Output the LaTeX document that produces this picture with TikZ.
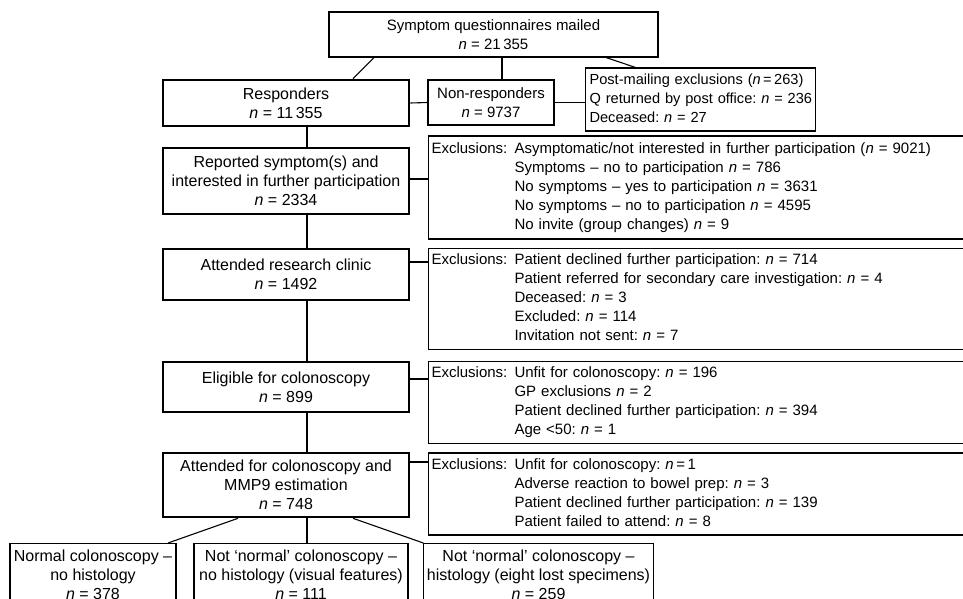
\documentclass[tikz,border=0pt]{standalone}
\usepackage{fontspec}
\setmainfont{Liberation Sans}
\usepackage{tikz}
\usetikzlibrary{calc}
\frenchspacing

\begin{document}
\begin{tikzpicture}[x=1pt, y=-1pt,
font=\fontsize{16}{19}\selectfont,
box/.style={draw, line width=1.1pt, inner sep=3pt, align=center},
smallbox/.style={box, font=\fontsize{15}{19}\selectfont},
mainbox/.style={box, line width=2.6pt},
exclbox/.style={smallbox, anchor=west, inner xsep=3pt, align=left},
link/.style={line width=1.1pt}]
\useasboundingbox (0,0) rectangle (963,598);
\coordinate (spine) at (307,0);
\node[smallbox, minimum width=329pt, minimum height=45pt] (mailed) at (493.5,34.5)
  {Symptom questionnaires mailed\\\textit{n} = 21\,355};
\node[mainbox, minimum width=246pt, minimum height=46pt] (resp) at (286,103)
  {Responders\\\textit{n} = 11\,355};
\node[smallbox, minimum width=126pt, minimum height=45pt] (nonresp) at (491,102.5)
  {Non-responders\\\textit{n} = 9737};
\node[exclbox, minimum width=230pt, minimum height=61pt, text width=222pt, inner xsep=4pt, font=\fontsize{14.6}{19}\selectfont] (postexcl) at (585,99.5)
  {\begin{tabular}{@{}l@{}}Post-mailing exclusions (\textit{n}\,=\,263)\\Q returned by post office: \textit{n} = 236\\Deceased: \textit{n} = 27\end{tabular}};
\node[mainbox, minimum width=246pt, minimum height=66pt] (symptoms) at (286,181)
  {Reported symptom(s) and\\interested in further participation\\\textit{n} = 2334};
\node[exclbox, minimum width=537pt, minimum height=103pt, text width=531pt] (exclsymptoms) at (428,187.5)
  {\begin{tabular}{@{}p{83pt}@{}l@{}}Exclusions: & Asymptomatic/not interested in further participation (\textit{n} = 9021)\\
  & Symptoms -- no to participation \textit{n} = 786\\
  & No symptoms -- yes to participation \textit{n} = 3631\\
  & No symptoms -- no to participation \textit{n} = 4595\\
  & No invite (group changes) \textit{n} = 9\end{tabular}};
\node[mainbox, minimum width=246pt, minimum height=51pt] (clinic) at (286,274.5)
  {Attended research clinic\\\textit{n} = 1492};
\node[exclbox, minimum width=537pt, minimum height=100pt, text width=531pt] (exclclinic) at (428,299)
  {\begin{tabular}{@{}p{83pt}@{}l@{}}Exclusions: & Patient declined further participation: \textit{n} = 714\\
  & Patient referred for secondary care investigation: \textit{n} = 4\\
  & Deceased: \textit{n} = 3\\
  & Excluded: \textit{n} = 114\\
  & Invitation not sent: \textit{n} = 7\end{tabular}};
\node[mainbox, minimum width=246pt, minimum height=50pt] (eligible) at (286,387)
  {Eligible for colonoscopy\\\textit{n} = 899};
\node[exclbox, minimum width=537pt, minimum height=81pt, text width=531pt] (excleligible) at (428,402.5)
  {\begin{tabular}{@{}p{83pt}@{}l@{}}Exclusions: & Unfit for colonoscopy: \textit{n} = 196\\
  & GP exclusions \textit{n} = 2\\
  & Patient declined further participation: \textit{n} = 394\\
  & Age <50: \textit{n} = 1\end{tabular}};
\node[mainbox, minimum width=246pt, minimum height=64pt] (colon) at (286,485)
  {Attended for colonoscopy and\\MMP9 estimation\\\textit{n} = 748};
\node[exclbox, minimum width=537pt, minimum height=81pt, text width=531pt] (exclcolon) at (428,494)
  {\begin{tabular}{@{}p{83pt}@{}l@{}}Exclusions: & Unfit for colonoscopy: \textit{n}\,=\,1\\
  & Adverse reaction to bowel prep: \textit{n} = 3\\
  & Patient declined further participation: \textit{n} = 139\\
  & Patient failed to attend: \textit{n} = 8\end{tabular}};
\node[box, anchor=north, minimum width=166pt, minimum height=62pt] (normal) at (93,543)
  {Normal colonoscopy --\\no histology\\\textit{n} = 378};
\node[box, anchor=north, minimum width=214pt, minimum height=62pt] (visual) at (301,543)
  {Not `normal' colonoscopy --\\no histology (visual features)\\\textit{n} = 111};
\node[box, anchor=north, minimum width=217pt, minimum height=62pt] (histology) at (538.5,543)
  {Not `normal' colonoscopy --\\histology (eight lost specimens)\\\textit{n} = 259};
\draw[link] ([xshift=-119.5pt]mailed.south) -- ([xshift=67pt]resp.north);
\draw[link] ([xshift=8.5pt]mailed.south) -- ([xshift=11pt]nonresp.north);
\draw[link] ([xshift=112.5pt]mailed.south) -- ([xshift=-65pt]postexcl.north);
\draw[link] (resp.east) -- (nonresp.west);
\draw[link] (nonresp.east) -- (nonresp.east -| postexcl.west);
\draw[link] (resp.south -| spine) -- (symptoms.north -| spine);
\draw[link] (symptoms.south -| spine) -- (clinic.north -| spine);
\draw[link] (clinic.south -| spine) -- (eligible.north -| spine);
\draw[link] (eligible.south -| spine) -- (colon.north -| spine);
\draw[link] (symptoms.east |- 0,179) -- (exclsymptoms.west |- 0,179);
\draw[link] (clinic.east |- 0,262) -- (exclclinic.west |- 0,262);
\draw[link] (eligible.east |- 0,379) -- (excleligible.west |- 0,379);
\draw[link] (colon.east |- 0,462) -- (exclcolon.west |- 0,462);
\draw[link] ([xshift=-48pt]colon.south) -- ([xshift=75pt]normal.north);
\draw[link] (colon.south -| spine) -- (visual.north -| spine);
\draw[link] ([xshift=67pt]colon.south) -- (histology.north west);
\end{tikzpicture}
\end{document}
